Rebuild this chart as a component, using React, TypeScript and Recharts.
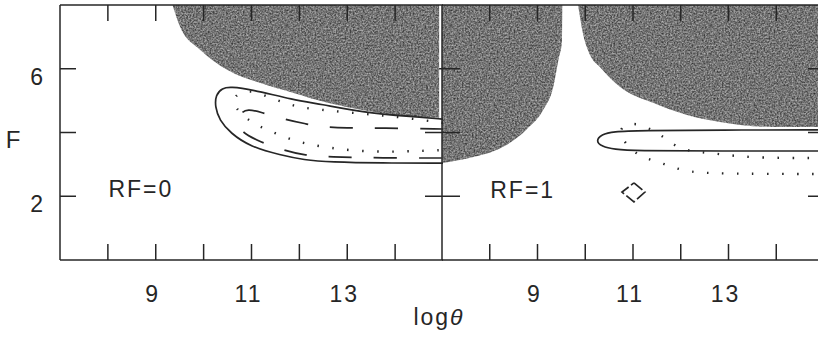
import React from "react";
import { ComposedChart, Area, Line, XAxis, YAxis, ReferenceDot } from "recharts";

type Pt = [number, number];

const X_DOMAIN: [number, number] = [7, 15];
const Y_DOMAIN: [number, number] = [0, 8];
const X_TICKS = [8, 9, 10, 11, 12, 13, 14];
const X_LABELS = [9, 11, 13];
const Y_TICKS = [2, 4, 6];
const Y_LABELS = [2, 6];

// RF=0 panel: lower edge of the grey region, then the three contours
const rf0Shade: Pt[] = [
  [9.35, 8.0], [9.51, 7.31], [9.93, 6.59], [10.5, 5.96], [11.19, 5.55],
  [11.88, 5.24], [12.59, 4.93], [13.28, 4.71], [13.97, 4.55], [14.92, 4.46],
];
const rf0Solid: Pt[] = [
  [15.0, 4.42], [14.39, 4.49], [13.28, 4.64], [12.45, 4.89], [11.88, 5.02],
  [10.98, 5.36], [10.56, 5.43], [10.39, 5.4], [10.25, 5.18], [10.24, 4.8],
  [10.33, 4.39], [10.56, 3.98], [10.98, 3.55], [11.61, 3.29], [12.09, 3.14],
  [12.65, 3.07], [13.7, 3.04], [15.0, 3.04],
];
const rf0Dashed: Pt[] = [
  [15.0, 4.11], [13.81, 4.14], [12.59, 4.14], [12.13, 4.27], [11.67, 4.42],
  [11.19, 4.64], [10.92, 4.74], [10.77, 4.61], [10.71, 4.33], [10.77, 4.02],
  [11.19, 3.7], [11.65, 3.45], [12.09, 3.29], [12.59, 3.23], [13.81, 3.2],
  [15.0, 3.2],
];
const rf0Dotted: Pt[] = [
  [15.0, 4.3], [14.29, 4.45], [13.64, 4.55], [12.93, 4.64], [12.28, 4.74],
  [11.96, 4.8], [11.65, 4.96], [11.34, 5.11], [11.02, 5.33], [10.71, 5.24],
  [10.62, 5.02], [10.66, 4.77], [10.92, 4.39], [11.23, 4.14], [11.54, 3.95],
  [11.86, 3.76], [12.17, 3.64], [12.49, 3.55], [13.14, 3.42], [13.85, 3.39],
  [14.5, 3.42], [15.0, 3.45],
];

// RF=1 panel
const rf1ShadeA: Pt[] = [
  [7.0, 3.04], [7.57, 3.2], [8.28, 3.55], [8.76, 4.08], [9.12, 4.71],
  [9.33, 5.43], [9.45, 6.37], [9.51, 6.81], [9.52, 8.0],
];
const rf1ShadeB: Pt[] = [
  [9.85, 8.0], [9.95, 7.12], [10.1, 6.43], [10.31, 6.05], [10.73, 5.43],
  [11.42, 4.93], [12.13, 4.55], [12.82, 4.33], [13.51, 4.2], [14.23, 4.17],
  [15.0, 4.17],
];
const rf1Solid: Pt[] = [
  [15.0, 4.08], [12.82, 4.08], [11.15, 4.06], [10.58, 4.03], [10.34, 3.94],
  [10.22, 3.74], [10.34, 3.56], [10.62, 3.47], [11.0, 3.42], [12.82, 3.42],
  [15.0, 3.42],
];
const rf1Dotted: Pt[] = [
  [15.0, 3.2], [13.62, 3.2], [12.97, 3.29], [12.61, 3.36], [12.3, 3.39],
  [11.94, 3.51], [11.67, 3.83], [11.4, 4.08], [11.1, 4.3], [10.79, 4.24],
  [10.73, 4.02], [10.77, 3.8], [11.0, 3.39], [11.29, 3.17], [11.61, 3.04],
  [11.92, 2.86], [12.24, 2.76], [12.57, 2.73], [13.24, 2.7], [15.0, 2.7],
];
const rf1Dashed: Pt[] = [
  [11.02, 2.42], [11.25, 2.13], [11.02, 1.82], [10.77, 2.13], [11.02, 2.42],
];

const INK = "#262626";
const FONT_FAMILY = '"Liberation Sans", Arial, sans-serif';
const FONT: React.CSSProperties = {
  fontFamily: FONT_FAMILY,
  fontSize: 23,
  fill: INK,
  letterSpacing: 2,
};

const band = (pts: Pt[]) => pts.map(([x, lo]) => ({ x, band: [lo, Y_DOMAIN[1]] }));
const line = (pts: Pt[]) => pts.map(([x, y]) => ({ x, y }));

const BottomTick = (p: any) => (
  <g>
    <line x1={p.x} y1={p.y} x2={p.x} y2={p.y - 16} stroke={INK} strokeWidth={1.5} />
    {X_LABELS.includes(p.payload.value) && (
      <text x={p.x - 3} y={p.y + 42} textAnchor="middle" style={FONT}>
        {p.payload.value}
      </text>
    )}
  </g>
);
const TopTick = (p: any) => (
  <line x1={p.x} y1={p.y} x2={p.x} y2={p.y + 16} stroke={INK} strokeWidth={1.5} />
);
const LeftTick = (p: any) => (
  <g>
    <line x1={p.x} y1={p.y} x2={p.x + 16} y2={p.y} stroke={INK} strokeWidth={1.5} />
    {Y_LABELS.includes(p.payload.value) && (
      <text x={p.x - 15} y={p.y + 16} textAnchor="end" style={FONT}>
        {p.payload.value}
      </text>
    )}
  </g>
);
const DividerTick = (p: any) => (
  <line x1={p.x - 17} y1={p.y} x2={p.x + 18} y2={p.y} stroke={INK} strokeWidth={1.5} />
);
const RightTick = (p: any) => (
  <line x1={p.x} y1={p.y} x2={p.x - 16} y2={p.y} stroke={INK} strokeWidth={1.5} />
);

const Grain = ({ id }: { id: string }) => (
  <defs>
    <filter
      id={`grain-${id}`}
      x="0"
      y="0"
      width="1"
      height="1"
      colorInterpolationFilters="sRGB"
    >
      <feTurbulence type="fractalNoise" baseFrequency="0.6" numOctaves={2} seed={5} result="noise" />
      <feColorMatrix
        in="noise"
        type="matrix"
        values="1 0 0 0 0  1 0 0 0 0  1 0 0 0 0  0 0 0 0 1"
        result="grey"
      />
      <feComponentTransfer in="grey" result="contrast">
        <feFuncR type="linear" slope={0.7} intercept={0.11} />
        <feFuncG type="linear" slope={0.7} intercept={0.11} />
        <feFuncB type="linear" slope={0.7} intercept={0.11} />
      </feComponentTransfer>
      <feComposite in="contrast" in2="SourceGraphic" operator="in" />
    </filter>
    <pattern id={`stip-${id}`} patternUnits="userSpaceOnUse" width={260} height={260}>
      <rect width={260} height={260} fill="#727272" filter={`url(#grain-${id})`} />
    </pattern>
  </defs>
);

const axisLine = { stroke: INK, strokeWidth: 1.5 };

const Contours = ({ solid, dashed, dotted, dashedLinear }: any) => [
  <Line
    key="dot"
    xAxisId="b"
    yAxisId="l"
    data={line(dotted)}
    dataKey="y"
    type="basis"
    stroke={INK}
    strokeWidth={2.4}
    strokeDasharray="1.5 13.5"
    dot={false}
    activeDot={false}
    isAnimationActive={false}
  />,
  <Line
    key="dash"
    xAxisId="b"
    yAxisId="l"
    data={line(dashed)}
    dataKey="y"
    type={dashedLinear ? "linear" : "basis"}
    stroke={INK}
    strokeWidth={1.7}
    strokeDasharray={dashedLinear ? "11 3" : "23 22"}
    dot={false}
    activeDot={false}
    isAnimationActive={false}
  />,
  <Line
    key="solid"
    xAxisId="b"
    yAxisId="l"
    data={line(solid)}
    dataKey="y"
    type="basis"
    stroke={INK}
    strokeWidth={1.7}
    dot={false}
    activeDot={false}
    isAnimationActive={false}
  />,
];

const xAxisCommon = {
  dataKey: "x",
  type: "number" as const,
  domain: X_DOMAIN,
  ticks: X_TICKS,
  interval: 0,
  allowDataOverflow: true,
  height: 1,
  tickSize: 0,
  tickMargin: 0,
  tickLine: false,
  axisLine,
};
const yAxisCommon = {
  type: "number" as const,
  domain: Y_DOMAIN,
  ticks: Y_TICKS,
  interval: 0,
  allowDataOverflow: true,
  width: 1,
  tickSize: 0,
  tickMargin: 0,
  tickLine: false,
  axisLine,
};

const LeftPanel = () => (
  <ComposedChart width={480} height={339} margin={{ top: 4, right: 37, bottom: 78, left: 59 }}>
    <Grain id="l" />
    <Area
      xAxisId="b"
      yAxisId="l"
      data={band(rf0Shade)}
      dataKey="band"
      type="monotone"
      stroke="none"
      fill="url(#stip-l)"
      fillOpacity={1}
      isAnimationActive={false}
    />
    {Contours({ solid: rf0Solid, dashed: rf0Dashed, dotted: rf0Dotted })}
    <ReferenceDot
      xAxisId="b"
      yAxisId="l"
      x={8.69}
      y={2.22}
      r={1}
      fill="transparent"
      stroke="none"
      label={{ value: "RF=0", position: "center", fill: INK, fontSize: 23, fontFamily: FONT_FAMILY, letterSpacing: 2 }}
    />
    <XAxis
      xAxisId="b"
      {...xAxisCommon}
      tick={BottomTick}
      label={{
        content: (p: any) => (
          <text
            x={p.viewBox.x + p.viewBox.width - 4}
            y={p.viewBox.y + 65}
            textAnchor="middle"
            style={FONT}
          >
            log<tspan fontStyle="italic">θ</tspan>
          </text>
        ),
      }}
    />
    <XAxis xAxisId="t" orientation="top" {...xAxisCommon} tick={TopTick} />
    <YAxis
      yAxisId="l"
      {...yAxisCommon}
      tick={LeftTick}
      label={{
        content: (p: any) => (
          <text
            x={p.viewBox.x + p.viewBox.width - 46}
            y={p.viewBox.y + p.viewBox.height / 2 + 15.5}
            textAnchor="middle"
            style={{ ...FONT, fontSize: 24 }}
          >
            F
          </text>
        ),
      }}
    />
  </ComposedChart>
);

const RightPanel = () => (
  <ComposedChart width={418} height={339} margin={{ top: 4, right: 17, bottom: 78, left: 17 }}>
    <Grain id="r" />
    <Area
      xAxisId="b"
      yAxisId="l"
      data={band(rf1ShadeA)}
      dataKey="band"
      type="monotone"
      stroke="none"
      fill="url(#stip-r)"
      fillOpacity={1}
      isAnimationActive={false}
    />
    <Area
      xAxisId="b"
      yAxisId="l"
      data={band(rf1ShadeB)}
      dataKey="band"
      type="monotone"
      stroke="none"
      fill="url(#stip-r)"
      fillOpacity={1}
      isAnimationActive={false}
    />
    {Contours({ solid: rf1Solid, dashed: rf1Dashed, dotted: rf1Dotted, dashedLinear: true })}
    <ReferenceDot
      xAxisId="b"
      yAxisId="l"
      x={8.69}
      y={2.2}
      r={1}
      fill="transparent"
      stroke="none"
      label={{ value: "RF=1", position: "center", fill: INK, fontSize: 23, fontFamily: FONT_FAMILY, letterSpacing: 2 }}
    />
    <XAxis xAxisId="b" {...xAxisCommon} tick={BottomTick} />
    <XAxis xAxisId="t" orientation="top" {...xAxisCommon} tick={TopTick} />
    <YAxis yAxisId="l" {...yAxisCommon} tick={DividerTick} />
    <YAxis yAxisId="r" orientation="right" {...yAxisCommon} tick={RightTick} />
  </ComposedChart>
);

export default function App() {
  return (
    <div
      style={{
        position: "absolute",
        left: 0,
        top: 0,
        width: 818,
        height: 339,
        overflow: "hidden",
        background: "#fff",
      }}
    >
      <div style={{ position: "absolute", left: 424, top: 0 }}>
        <RightPanel />
      </div>
      <div style={{ position: "absolute", left: 0, top: 0 }}>
        <LeftPanel />
      </div>
    </div>
  );
}
